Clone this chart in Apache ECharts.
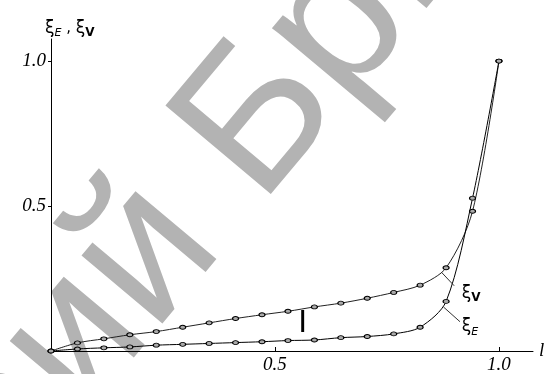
<!DOCTYPE html>
<html>
<head>
<meta charset="utf-8">
<script src="https://cdn.jsdelivr.net/npm/echarts@6/dist/echarts.min.js"></script>
<style>
  html, body { margin: 0; padding: 0; background: #fff; }
  #chart { width: 548px; height: 374px; }
</style>
</head>
<body>
<div id="chart"></div>
<script>
// relative length l
var ell = [0, 0.059, 0.118, 0.176, 0.235, 0.294, 0.353, 0.412, 0.471, 0.529,
  0.588, 0.647, 0.706, 0.765, 0.824, 0.882, 0.941, 1.0];
var xiV = [0, 0.028, 0.042, 0.056, 0.067, 0.082, 0.097, 0.112, 0.125, 0.137,
  0.152, 0.165, 0.182, 0.202, 0.227, 0.287, 0.482, 1.0];
var xiE = [0, 0.007, 0.011, 0.014, 0.020, 0.023, 0.026, 0.029, 0.032, 0.036,
  0.038, 0.046, 0.050, 0.059, 0.082, 0.171, 0.527, 1.0];
var tickValues = [0.5, 1.0];

var chart = echarts.init(document.getElementById("chart"));

var serif = "'Liberation Serif', 'Times New Roman', serif";
var sans = "'DejaVu Sans', sans-serif";

function pairs(xs, ys) {
  return xs.map(function (x, i) { return [x, ys[i]]; });
}

var lineSeries = function (name, values, color) {
  return {
    name: name,
    type: "line",
    data: pairs(ell, values),
    smooth: 0.3,
    symbol: "circle",
    symbolSize: [6, 4],
    showAllSymbol: true,
    lineStyle: { color: color, width: 1 },
    itemStyle: { color: "#aaa", borderColor: "#000", borderWidth: 1 },
    z: 3
  };
};

var tickLabel = {
  customValues: tickValues,
  fontFamily: serif,
  fontStyle: "italic",
  fontSize: 19,
  color: "#000",
  formatter: function (v) { return v.toFixed(1); }
};

chart.setOption({
  backgroundColor: "#fff",
  animation: false,
  grid: { left: 51, right: 15, top: 39, bottom: 17.5 },
  xAxis: {
    type: "value",
    min: 0,
    max: 1.076,
    name: "l",
    nameLocation: "end",
    nameGap: 6,
    nameTextStyle: { fontFamily: serif, fontStyle: "italic", fontSize: 19, color: "#000", verticalAlign: "middle" },
    splitLine: { show: false },
    axisLine: { lineStyle: { color: "#000", width: 1 } },
    axisTick: { length: 4, inside: true, customValues: tickValues, lineStyle: { color: "#000" } },
    axisLabel: Object.assign({ margin: 4 }, tickLabel)
  },
  yAxis: {
    type: "value",
    min: 0,
    max: 1.076,
    splitLine: { show: false },
    axisLine: { lineStyle: { color: "#000", width: 1 } },
    axisTick: { length: 3, customValues: tickValues, lineStyle: { color: "#000" } },
    axisLabel: Object.assign({ margin: 5 }, tickLabel)
  },
  series: [
    lineSeries("ξV", xiV, "#222"),
    lineSeries("ξE", xiE, "#000")
  ]
});

// annotations placed in data coordinates
function px(x, y) { return chart.convertToPixel({ gridIndex: 0 }, [x, y]); }

var vA = px(0.872, 0.271), vB = px(0.900, 0.225);
var eA = px(0.876, 0.152), eB = px(0.913, 0.101);
var vL = px(0.917, 0.198), eL = px(0.917, 0.083);
var mark = px(0.562, 0.093);

var xiRich = {
  xi: { fontFamily: sans, fontSize: 17, color: "#000" },
  subE: { fontFamily: sans, fontSize: 11, fontStyle: "italic", color: "#000", padding: [10, 0, 0, 0] },
  subV: { fontFamily: sans, fontSize: 12, fontWeight: "bold", color: "#000", padding: [8, 0, 0, 0] },
  txt: { fontFamily: sans, fontSize: 15, color: "#000" }
};

// background watermark
var wmFont = "200px 'Liberation Sans', Arial, sans-serif";
var wmRot = 50 * Math.PI / 180;

chart.setOption({
  graphic: [
    {
      type: "text",
      x: 218, y: 171,
      rotation: wmRot,
      z: 0,
      silent: true,
      style: { text: "БрГУ", font: wmFont, fill: "#b3b3b3", align: "left", verticalAlign: "middle" }
    },
    {
      type: "text",
      x: 183, y: 213,
      rotation: wmRot,
      z: 0,
      silent: true,
      style: { text: "Репозиторий", font: wmFont, fill: "#b3b3b3", align: "right", verticalAlign: "middle" }
    },
    {
      type: "text",
      x: 45, y: 18,
      z: 10,
      style: { text: "{xi|ξ}{subE|E}{txt| , }{xi|ξ}{subV|V}", rich: xiRich }
    },
    {
      type: "line",
      z: 10,
      shape: { x1: vA[0], y1: vA[1], x2: vB[0], y2: vB[1] },
      style: { stroke: "#333", lineWidth: 1 }
    },
    {
      type: "line",
      z: 10,
      shape: { x1: eA[0], y1: eA[1], x2: eB[0], y2: eB[1] },
      style: { stroke: "#333", lineWidth: 1 }
    },
    {
      type: "text",
      x: vL[0], y: vL[1],
      z: 10,
      style: { text: "{xi|ξ}{subV|V}", rich: xiRich, verticalAlign: "middle" }
    },
    {
      type: "text",
      x: eL[0], y: eL[1],
      z: 10,
      style: { text: "{xi|ξ}{subE|E}", rich: xiRich, verticalAlign: "middle" }
    },
    {
      type: "text",
      x: mark[0], y: mark[1],
      z: 10,
      style: { text: "I", font: "30px 'DejaVu Sans', sans-serif", fill: "#000", align: "center", verticalAlign: "middle" }
    }
  ]
});
</script>
</body>
</html>
